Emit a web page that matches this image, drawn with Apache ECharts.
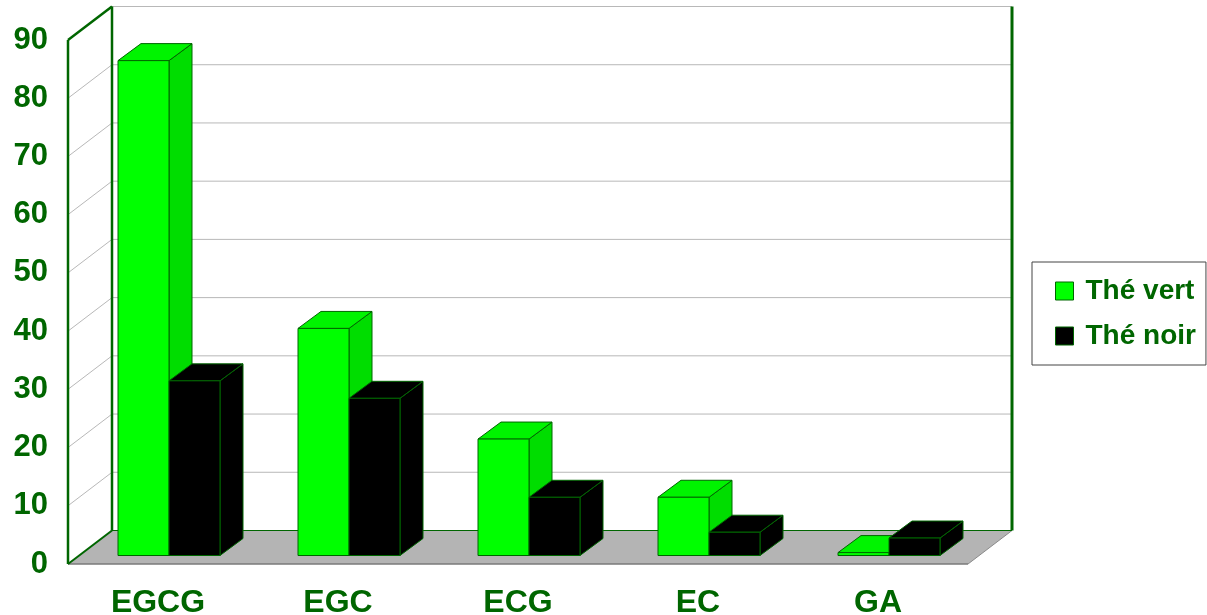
<!DOCTYPE html>
<html>
<head>
<meta charset="utf-8">
<script src="https://cdn.jsdelivr.net/npm/echarts@6/dist/echarts.min.js"></script>
<style>
  html, body { margin: 0; padding: 0; background: #fff; }
  #chart { width: 1207px; height: 615px; }
</style>
</head>
<body>
<div id="chart"></div>
<script>
// values
const categories = ['EGCG', 'EGC', 'ECG', 'EC', 'GA'];
const theVert = [85, 39, 20, 10, 0.5];
const theNoir = [30, 27, 10, 4, 3];
const gridValues = [10, 20, 30, 40, 50, 60, 70, 80, 90];

const DARK = '#006600';
const FONT = '"Liberation Sans", Arial, sans-serif';
const DEPTH = [44, -33.5];     // floor depth (pseudo 3d)
const BAR_OFF = [11, -8.5];    // bar front face offset from front plane
const BAR_DEPTH = [23, -17];
const BAR_RATIO = 51 / 180;

function seg(p1, p2, color, width) {
  return {
    type: 'line',
    shape: { x1: p1[0], y1: p1[1], x2: p2[0], y2: p2[1] },
    style: { stroke: color, lineWidth: width }
  };
}

function renderFrame(params, api) {
  const cs = params.coordSys;
  const x0 = cs.x;
  const x1 = cs.x + cs.width;
  const yb = api.coord([0, 0])[1];
  const yt = api.coord([0, 90])[1];
  const dx = DEPTH[0], dy = DEPTH[1];
  const children = [];

  children.push({
    type: 'polygon',
    shape: { points: [[x0, yb], [x1, yb], [x1 + dx, yb + dy], [x0 + dx, yb + dy]] },
    style: { fill: '#b4b4b4' }
  });

  gridValues.forEach(function (v) {
    const y = api.coord([0, v])[1];
    children.push(seg([x0 + dx, y + dy], [x1 + dx, y + dy], '#b8b8b8', 1));
    if (v < 90) children.push(seg([x0, y], [x0 + dx, y + dy], '#b8b8b8', 1));
  });

  children.push(seg([x0, yb], [x1, yb], '#7a7a7a', 1.5));
  children.push(seg([x1, yb], [x1 + dx, yb + dy], '#8a8a8a', 1));
  children.push(seg([x0 + dx, yb + dy], [x1 + dx, yb + dy], DARK, 1));
  children.push(seg([x0, yb], [x0 + dx, yb + dy], DARK, 2));
  children.push(seg([x0, yt], [x0 + dx, yt + dy], DARK, 2.5));
  children.push(seg([x0, yb], [x0, yt], DARK, 2.5));
  children.push(seg([x0 + dx, yb + dy], [x0 + dx, yt + dy], DARK, 2.5));
  children.push(seg([x1 + dx, yb + dy], [x1 + dx, yt + dy], DARK, 3));

  return { type: 'group', children: children };
}

function barRenderer(side, front, sideCol, topCol) {
  return function (params, api) {
    const cat = api.value(0);
    const val = api.value(1);
    const base = api.coord([cat, 0]);
    const top = api.coord([cat, val]);
    const w = api.size([1, 0])[0] * BAR_RATIO;
    const cx = base[0] + BAR_OFF[0];
    const xl = side === 'left' ? cx - w : cx;
    const xr = xl + w;
    const yb = base[1] + BAR_OFF[1];
    const yt = top[1] + BAR_OFF[1];
    const bx = BAR_DEPTH[0], by = BAR_DEPTH[1];
    const stroke = { stroke: DARK, lineWidth: 1 };
    return {
      type: 'group',
      children: [
        {
          type: 'polygon',
          shape: { points: [[xr, yt], [xr + bx, yt + by], [xr + bx, yb + by], [xr, yb]] },
          style: Object.assign({ fill: sideCol }, stroke)
        },
        {
          type: 'polygon',
          shape: { points: [[xl, yt], [xr, yt], [xr + bx, yt + by], [xl + bx, yt + by]] },
          style: Object.assign({ fill: topCol }, stroke)
        },
        {
          type: 'rect',
          shape: { x: xl, y: yt, width: w, height: yb - yt },
          style: Object.assign({ fill: front }, stroke)
        }
      ]
    };
  };
}

const chart = echarts.init(document.getElementById('chart'));

chart.setOption({
  backgroundColor: '#fff',
  animation: false,
  grid: {
    left: 68,
    top: 40,
    width: 900,
    height: 524,
    containLabel: false,
    outerBoundsMode: 'none'
  },
  legend: {
    orient: 'vertical',
    left: 1032,
    top: 262,
    padding: [15, 10, 15, 23],
    itemGap: 17,
    itemWidth: 18,
    itemHeight: 18,
    borderColor: '#444',
    borderWidth: 1,
    backgroundColor: '#fff',
    selectedMode: false,
    textStyle: {
      color: DARK,
      fontFamily: FONT,
      fontWeight: 'bold',
      fontSize: 28,
      padding: [0, 0, 0, 7]
    },
    data: [
      { name: 'Thé vert', icon: 'rect', itemStyle: { color: '#00ff00', borderColor: DARK, borderWidth: 1 } },
      { name: 'Thé noir', icon: 'rect', itemStyle: { color: '#000000', borderColor: DARK, borderWidth: 1 } }
    ]
  },
  xAxis: {
    type: 'category',
    data: categories,
    axisLine: { show: false },
    axisTick: { show: false },
    splitLine: { show: false },
    axisLabel: {
      color: DARK,
      fontFamily: FONT,
      fontWeight: 'bold',
      fontSize: 32,
      margin: 23
    }
  },
  yAxis: {
    type: 'value',
    min: 0,
    max: 90,
    interval: 10,
    axisLine: { show: false },
    axisTick: { show: false },
    splitLine: { show: false },
    axisLabel: {
      color: DARK,
      fontFamily: FONT,
      fontWeight: 'bold',
      fontSize: 31,
      margin: 20
    }
  },
  series: [
    {
      type: 'custom',
      name: 'frame',
      silent: true,
      z: 1,
      renderItem: renderFrame,
      data: [[0, 0]]
    },
    {
      type: 'custom',
      name: 'Thé vert',
      z: 3,
      itemStyle: { color: '#00ff00' },
      renderItem: barRenderer('left', '#00ff00', '#00dd00', '#00f400'),
      data: theVert.map(function (v, i) { return [i, v]; })
    },
    {
      type: 'custom',
      name: 'Thé noir',
      z: 4,
      itemStyle: { color: '#000000' },
      renderItem: barRenderer('right', '#000000', '#000000', '#000000'),
      data: theNoir.map(function (v, i) { return [i, v]; })
    }
  ]
});
</script>
</body>
</html>
